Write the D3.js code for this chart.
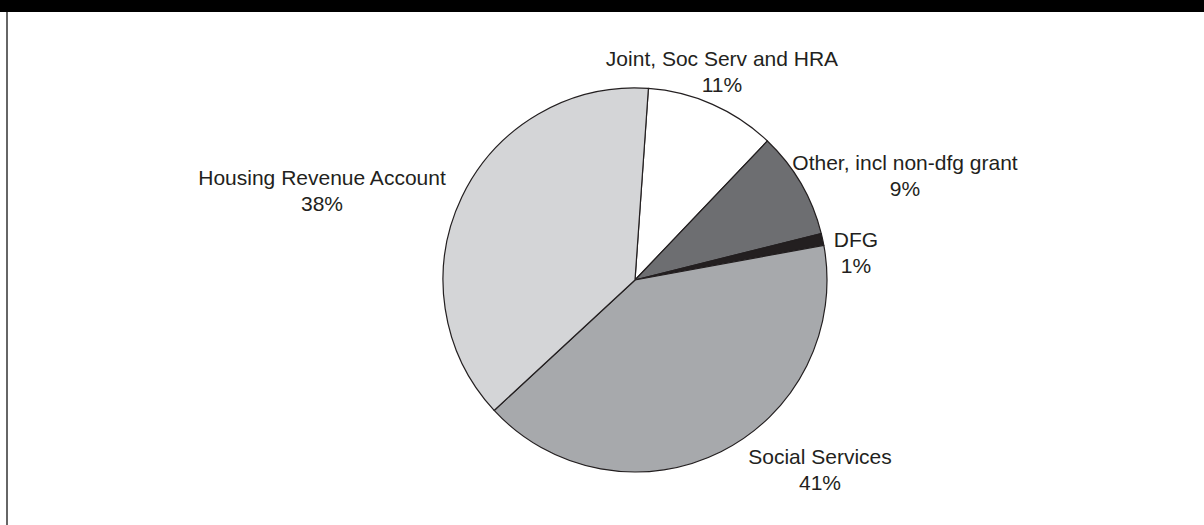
<!DOCTYPE html>
<html>
<head>
<meta charset="utf-8">
<script src="https://cdn.jsdelivr.net/npm/d3@7"></script>
<style>
  html, body { margin: 0; padding: 0; background: #fff; }
  svg { display: block; }
  .lbl { font-family: "Liberation Sans", Arial, Helvetica, sans-serif; font-size: 21px; fill: #231f20; }
</style>
</head>
<body>
<svg id="chart" width="1204" height="525"></svg>
<script>
// Capital funding split by source (share of total, %)
const categories = ["Joint, Soc Serv and HRA", "Other, incl non-dfg grant", "DFG", "Social Services", "Housing Revenue Account"];
const shares = [11, 9, 1, 41, 38];
const fills = ["#ffffff", "#6d6e71", "#231f20", "#a7a9ac", "#d4d5d7"];
// label anchor points (centre x, first-line baseline y)
const labelX = [722, 905, 856, 820, 322];
const labelY = [66, 170, 247, 464, 185];

const svg = d3.select("#chart");
const W = 1204, H = 525;

// header band and frame
svg.append("rect").attr("x", 0).attr("y", 0).attr("width", W).attr("height", 12).attr("fill", "#000");
svg.append("line").attr("x1", 7).attr("x2", 7).attr("y1", 12).attr("y2", H)
  .attr("stroke", "#333").attr("stroke-width", 1.5);

const cx = 635, cy = 280, r = 192;
const start = 4 * Math.PI / 180;

const pie = d3.pie().sort(null).value(d => d)
  .startAngle(start).endAngle(start + 2 * Math.PI);
const arc = d3.arc().innerRadius(0).outerRadius(r);

const g = svg.append("g").attr("transform", `translate(${cx},${cy})`);
g.selectAll("path").data(pie(shares)).join("path")
  .attr("d", arc)
  .attr("fill", (d, i) => fills[i])
  .attr("stroke", "#231f20")
  .attr("stroke-width", 1.2)
  .attr("stroke-linejoin", "round");

const labels = svg.append("g");
categories.forEach((c, i) => {
  const t = labels.append("text").attr("class", "lbl").attr("text-anchor", "middle");
  t.append("tspan").attr("x", labelX[i]).attr("y", labelY[i]).text(c);
  t.append("tspan").attr("x", labelX[i]).attr("y", labelY[i] + 26).text(d3.format("d")(shares[i]) + "%");
});
</script>
</body>
</html>
